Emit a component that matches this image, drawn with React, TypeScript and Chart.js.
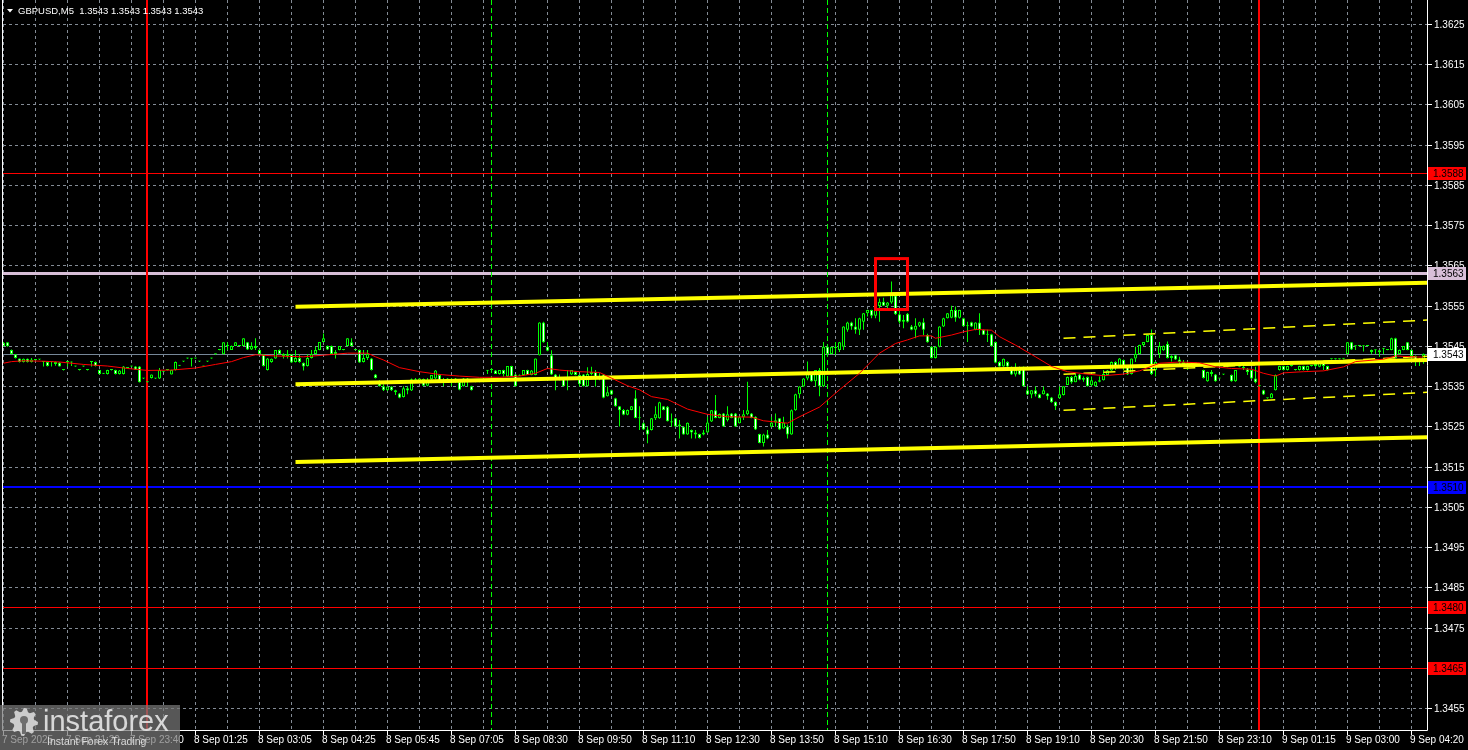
import React, { useEffect, useRef } from 'react';
import { Chart, registerables } from 'chart.js';

Chart.register(...registerables);

// ---------------- DATA ----------------
// GBPUSD M5 candles; values are pips above BASE (1.3500)
const BASE = 1.35;
const symbolTitle = 'GBPUSD,M5';
const titlePrices = [1.3543, 1.3543, 1.3543, 1.3543];

const opens = [
  45.8, 45.9, 44.0, 42.9, 41.9, 41.0, 41.8, 41.0, 41.5, 41.6,
  41.1, 41.0, 41.0, 41.0, 40.8, 39.0, 41.1, 41.0, 39.9, 39.0,
  39.9, 39.0, 41.1, 41.0, 39.0, 38.1, 38.0, 39.0, 39.0, 38.0,
  38.0, 39.5, 39.9, 39.9, 39.9, 36.9, 36.0, 37.0, 36.9, 36.9,
  38.6, 39.0, 37.9, 39.0, 40.1, 41.1, 41.9, 41.9, 41.9, 41.1,
  39.9, 41.1, 41.9, 42.9, 44.0, 42.9, 45.0, 44.0, 45.0, 45.0,
  45.0, 45.9, 44.1, 45.0, 44.0, 42.9, 39.0, 41.0, 41.9, 44.0,
  43.0, 42.5, 42.9, 41.0, 42.0, 40.8, 40.0, 42.0, 43.0, 44.0,
  46.0, 45.0, 45.0, 43.0, 44.0, 44.0, 45.0, 45.9, 44.0, 44.0,
  41.0, 42.0, 41.9, 37.9, 35.7, 35.0, 34.0, 34.9, 34.0, 33.2,
  32.3, 34.5, 33.9, 36.7, 36.0, 36.8, 35.1, 36.7, 36.9, 37.8,
  36.2, 36.9, 36.0, 36.0, 36.1, 35.0, 36.9, 35.0, 36.1, 36.1,
  36.1, 38.9, 39.0, 38.9, 38.0, 39.0, 37.4, 40.0, 37.9, 37.6,
  37.8, 39.0, 37.8, 37.8, 42.7, 50.8, 44.8, 42.7, 37.9, 36.5,
  36.9, 37.0, 37.9, 38.6, 37.8, 37.9, 35.0, 38.0, 38.5, 37.0,
  37.9, 32.5, 34.0, 32.0, 30.0, 29.1, 27.9, 29.1, 32.0, 27.1,
  25.8, 24.2, 24.1, 27.0, 27.0, 30.0, 29.9, 26.3, 27.0, 25.0,
  24.9, 23.0, 24.1, 23.5, 23.1, 23.0, 23.5, 26.2, 29.0, 27.1,
  28.2, 26.5, 28.2, 28.2, 25.8, 27.3, 28.0, 28.2, 27.4, 23.1,
  20.9, 23.0, 24.9, 26.0, 27.0, 24.5, 25.0, 23.0, 29.0, 33.0,
  34.9, 36.9, 38.0, 36.2, 39.0, 35.0, 44.8, 43.0, 44.8, 44.0,
  44.8, 49.0, 50.8, 49.8, 49.0, 51.0, 53.1, 53.9, 52.5, 54.9,
  56.0, 55.0, 55.8, 57.5, 52.9, 51.0, 53.0, 49.8, 49.0, 50.0,
  50.9, 47.7, 44.8, 42.0, 44.8, 49.8, 51.9, 52.0, 53.9, 52.0,
  51.9, 49.9, 50.9, 49.0, 50.8, 49.0, 47.8, 47.9, 46.0, 41.0,
  39.9, 41.0, 39.8, 37.9, 39.0, 39.8, 34.0, 32.9, 34.0, 33.0,
  33.0, 33.2, 32.2, 31.1, 32.0, 32.8, 35.3, 37.3, 36.0, 37.9,
  36.6, 37.3, 35.2, 35.0, 36.1, 36.5, 37.8, 38.9, 41.0, 40.0,
  41.5, 39.8, 38.0, 41.9, 43.0, 45.2, 46.0, 47.7, 39.0, 43.0,
  43.9, 45.5, 42.0, 42.7, 41.6, 41.0, 40.5, 40.7, 40.7, 40.3,
  39.0, 36.2, 38.5, 37.9, 36.9, 37.9, 39.8, 37.8, 36.2, 39.8,
  39.8, 39.2, 39.0, 36.9, 35.0, 34.0, 32.0, 32.0, 34.0, 39.0,
  40.0, 39.0, 40.0, 39.0, 39.0, 40.0, 39.0, 40.0, 40.0, 39.8,
  41.1, 40.0, 41.7, 41.7, 41.7, 41.8, 43.0, 45.9, 45.0, 45.0,
  45.0, 45.0, 44.0, 44.0, 43.9, 44.4, 44.0, 44.0, 46.9, 43.0,
  44.0, 45.9, 44.0, 42.5, 41.5, 41.0,
];

const highs = [
  46.0, 45.9, 44.1, 42.9, 41.9, 41.9, 41.9, 42.0, 41.6, 41.7,
  41.2, 41.1, 41.1, 41.1, 41.0, 39.1, 41.2, 41.1, 40.0, 39.1,
  40.0, 39.1, 41.2, 41.1, 39.1, 38.3, 39.1, 39.1, 39.1, 39.0,
  40.0, 39.6, 40.0, 40.0, 40.0, 37.0, 36.1, 37.9, 37.0, 39.5,
  38.7, 39.1, 39.1, 41.1, 40.2, 41.2, 42.0, 42.0, 42.0, 41.2,
  40.0, 41.2, 42.0, 43.0, 44.1, 45.9, 45.9, 45.1, 45.9, 45.1,
  46.9, 46.0, 45.9, 46.9, 44.1, 43.0, 42.0, 41.9, 44.0, 44.1,
  43.2, 44.0, 43.0, 44.0, 42.9, 40.9, 42.9, 44.0, 44.8, 46.0,
  48.1, 45.1, 45.1, 44.0, 45.0, 44.1, 46.9, 46.9, 44.1, 44.1,
  44.0, 44.0, 42.0, 38.0, 36.5, 35.5, 34.9, 35.0, 34.1, 33.3,
  35.0, 35.0, 36.9, 37.0, 37.0, 36.9, 37.0, 37.8, 39.0, 38.0,
  37.0, 37.0, 37.0, 37.0, 36.2, 37.0, 37.0, 35.1, 36.2, 36.2,
  36.3, 39.0, 39.1, 39.0, 39.0, 39.1, 40.0, 40.1, 38.0, 37.9,
  39.0, 39.1, 39.0, 41.9, 50.9, 51.0, 45.9, 43.9, 38.0, 37.9,
  37.0, 39.0, 39.0, 38.7, 37.9, 38.0, 39.7, 39.8, 39.0, 38.2,
  38.0, 34.9, 34.1, 32.1, 30.1, 29.3, 29.2, 30.1, 34.0, 30.0,
  26.0, 24.9, 27.1, 30.0, 31.1, 30.1, 30.1, 28.2, 27.1, 26.6,
  25.0, 26.0, 24.2, 24.1, 23.2, 24.1, 27.4, 29.1, 32.8, 28.2,
  28.3, 30.0, 28.3, 28.3, 27.4, 29.1, 36.1, 28.3, 27.5, 23.2,
  23.2, 24.1, 27.4, 28.2, 27.1, 27.4, 25.5, 29.2, 33.1, 35.0,
  37.0, 41.1, 38.3, 39.0, 39.5, 46.0, 45.5, 44.8, 46.0, 46.0,
  49.9, 51.0, 51.0, 51.9, 52.0, 53.2, 54.0, 54.0, 55.0, 56.8,
  57.0, 55.9, 61.0, 58.0, 54.0, 52.7, 53.2, 50.2, 51.9, 51.0,
  51.9, 48.0, 45.0, 44.9, 49.9, 52.0, 53.2, 55.0, 54.8, 54.0,
  52.0, 51.0, 51.0, 50.9, 53.1, 49.1, 49.0, 48.0, 46.1, 41.2,
  41.9, 41.2, 39.9, 40.7, 39.9, 39.9, 35.0, 34.0, 34.9, 33.1,
  34.9, 33.3, 32.3, 31.2, 34.9, 35.0, 37.4, 37.5, 38.2, 38.0,
  37.4, 37.4, 37.4, 36.2, 37.4, 39.0, 39.0, 41.1, 41.2, 42.0,
  41.6, 39.9, 41.9, 44.8, 45.3, 46.0, 47.8, 49.1, 41.1, 46.0,
  45.1, 46.1, 42.7, 42.8, 42.3, 41.5, 41.1, 40.8, 40.8, 40.4,
  39.1, 38.6, 39.0, 38.0, 37.0, 38.0, 39.9, 37.9, 39.0, 39.9,
  40.0, 39.5, 39.1, 39.8, 35.1, 34.1, 32.1, 33.3, 37.9, 40.1,
  40.1, 40.1, 40.1, 39.1, 40.1, 40.1, 40.1, 40.1, 41.1, 41.2,
  41.2, 40.1, 41.8, 41.8, 41.8, 41.9, 46.0, 46.0, 45.1, 45.1,
  45.1, 45.1, 44.1, 44.1, 44.0, 44.5, 44.1, 47.0, 47.0, 44.1,
  45.0, 46.0, 44.1, 42.6, 42.0, 43.1,
];

const lows = [
  44.9, 44.8, 42.9, 41.9, 40.9, 40.9, 40.9, 40.9, 41.4, 41.5,
  39.9, 39.9, 39.9, 40.1, 39.9, 38.9, 39.9, 40.0, 39.8, 38.9,
  39.8, 38.9, 39.9, 39.9, 37.9, 38.0, 37.9, 38.9, 37.9, 37.9,
  37.9, 39.4, 39.8, 39.0, 35.9, 36.8, 35.9, 36.9, 36.8, 36.8,
  38.5, 38.9, 37.9, 38.9, 40.0, 41.0, 41.8, 39.9, 41.8, 41.0,
  39.8, 41.0, 41.8, 42.8, 43.9, 42.9, 44.0, 44.0, 45.0, 44.9,
  45.0, 44.0, 44.0, 44.0, 42.9, 39.9, 38.9, 40.8, 41.8, 42.9,
  41.9, 41.9, 40.8, 40.9, 40.8, 38.9, 39.9, 41.9, 42.9, 43.9,
  45.9, 44.0, 42.9, 41.9, 43.9, 43.9, 44.9, 44.9, 43.9, 40.8,
  40.9, 41.5, 38.9, 36.9, 34.9, 33.8, 33.8, 33.8, 32.8, 32.0,
  32.2, 33.0, 33.8, 35.8, 35.8, 35.0, 35.0, 36.6, 36.8, 36.1,
  35.0, 35.9, 35.0, 35.8, 34.0, 34.9, 34.9, 33.9, 36.0, 36.0,
  36.0, 38.0, 38.9, 38.0, 37.9, 37.4, 37.3, 37.3, 34.9, 37.5,
  37.7, 37.8, 37.7, 37.7, 42.6, 45.8, 43.7, 37.8, 34.0, 36.4,
  34.9, 34.0, 37.8, 37.7, 34.9, 34.9, 35.0, 37.7, 34.9, 36.5,
  32.0, 32.4, 32.8, 29.9, 25.0, 27.8, 27.8, 29.0, 27.0, 24.1,
  24.1, 20.8, 24.0, 26.6, 26.9, 29.0, 26.2, 24.9, 24.9, 22.0,
  22.9, 22.9, 22.0, 22.0, 22.0, 22.8, 23.4, 26.1, 27.0, 27.0,
  24.9, 26.2, 27.0, 24.9, 25.7, 26.6, 27.8, 27.0, 24.1, 20.8,
  20.0, 21.8, 24.8, 24.9, 24.1, 24.4, 22.0, 22.9, 28.9, 32.0,
  34.8, 36.5, 36.1, 34.9, 32.5, 34.8, 42.7, 42.9, 42.7, 43.5,
  44.0, 48.5, 49.0, 48.0, 47.7, 49.0, 52.3, 51.9, 51.9, 51.0,
  54.9, 53.9, 55.5, 52.7, 50.6, 49.4, 50.8, 48.9, 46.9, 49.7,
  47.7, 45.8, 41.9, 41.9, 44.7, 49.7, 51.8, 51.9, 51.0, 51.8,
  49.8, 46.0, 49.7, 48.9, 47.7, 47.7, 46.0, 44.8, 40.7, 39.8,
  39.8, 39.0, 37.8, 37.4, 37.8, 34.9, 32.8, 32.0, 32.4, 32.0,
  32.9, 31.6, 30.9, 29.1, 31.9, 32.7, 35.3, 35.6, 36.0, 36.5,
  36.1, 34.9, 35.0, 34.9, 36.0, 36.4, 37.7, 38.8, 39.0, 39.9,
  39.0, 37.8, 37.9, 41.0, 42.8, 44.9, 45.9, 37.8, 37.4, 42.0,
  43.8, 41.9, 41.1, 41.5, 40.0, 39.8, 39.0, 40.6, 40.6, 40.2,
  36.9, 36.1, 37.4, 36.1, 36.8, 37.8, 39.7, 36.1, 36.1, 39.7,
  39.0, 37.8, 36.8, 35.7, 34.9, 32.8, 31.9, 32.0, 33.9, 38.9,
  38.9, 38.9, 39.9, 38.9, 38.9, 38.9, 38.9, 39.9, 39.7, 39.7,
  39.0, 38.9, 41.6, 41.6, 41.6, 41.7, 42.9, 44.0, 44.0, 44.9,
  43.6, 44.9, 43.0, 43.0, 42.3, 43.0, 43.9, 43.9, 41.9, 42.9,
  43.9, 43.9, 41.5, 40.0, 40.0, 40.6,
];

const closes = [
  45.0, 44.9, 43.0, 42.0, 41.0, 41.8, 41.0, 41.6, 41.5, 41.6,
  41.0, 40.0, 41.0, 40.5, 39.9, 39.0, 41.0, 40.9, 39.9, 39.0,
  39.9, 39.0, 41.0, 40.0, 38.0, 38.2, 39.0, 39.0, 38.0, 38.9,
  39.9, 39.5, 39.9, 39.1, 36.0, 36.9, 36.0, 37.9, 36.9, 39.0,
  38.6, 39.0, 39.0, 41.0, 40.1, 41.1, 41.9, 41.8, 41.9, 41.1,
  39.9, 41.1, 41.9, 42.9, 44.0, 45.9, 45.1, 45.0, 45.9, 45.0,
  46.9, 44.1, 45.0, 44.5, 43.0, 40.0, 41.9, 41.8, 44.0, 43.0,
  42.5, 43.0, 40.9, 42.0, 41.0, 39.9, 42.0, 43.0, 44.0, 46.0,
  46.9, 44.1, 43.0, 43.5, 45.0, 44.0, 46.9, 45.0, 44.0, 40.9,
  42.0, 43.0, 39.0, 37.0, 35.0, 34.0, 34.9, 34.0, 33.5, 32.1,
  34.5, 33.9, 36.7, 36.0, 36.9, 35.1, 36.5, 37.8, 38.9, 36.2,
  36.5, 36.0, 36.4, 36.9, 34.1, 36.9, 36.0, 34.0, 36.1, 36.1,
  36.2, 38.8, 39.0, 38.0, 39.0, 38.0, 40.0, 37.4, 35.0, 37.8,
  39.0, 37.8, 38.9, 41.9, 50.8, 45.9, 43.8, 37.9, 36.5, 37.0,
  35.0, 36.5, 39.0, 37.8, 35.5, 35.0, 38.0, 38.5, 37.0, 37.5,
  32.1, 33.5, 32.9, 30.0, 29.0, 27.9, 29.1, 30.0, 27.1, 27.0,
  24.2, 23.0, 27.0, 28.0, 31.0, 29.1, 26.3, 26.0, 25.0, 25.5,
  23.0, 25.9, 23.5, 23.0, 22.1, 23.5, 26.0, 29.0, 27.1, 28.1,
  25.0, 28.0, 27.1, 25.0, 27.3, 28.0, 29.0, 27.1, 24.2, 20.9,
  23.0, 22.0, 26.0, 26.5, 24.2, 26.0, 23.0, 29.0, 33.0, 34.9,
  36.9, 38.0, 36.2, 39.0, 35.0, 44.8, 43.0, 44.8, 44.5, 45.9,
  49.8, 50.8, 49.8, 49.0, 51.9, 53.1, 53.9, 52.5, 54.9, 56.0,
  55.0, 55.8, 57.7, 52.9, 51.0, 51.5, 51.0, 49.0, 50.0, 50.9,
  49.0, 45.9, 42.0, 44.8, 49.8, 51.9, 53.1, 53.9, 52.0, 53.9,
  49.9, 50.0, 49.8, 50.8, 49.0, 47.8, 48.0, 44.9, 40.8, 39.9,
  41.8, 39.9, 37.9, 39.0, 37.9, 35.0, 32.9, 34.0, 33.0, 32.0,
  34.0, 32.5, 31.0, 30.0, 33.0, 35.0, 37.3, 36.0, 37.5, 36.6,
  37.0, 35.0, 36.5, 36.1, 36.5, 38.0, 38.9, 41.0, 40.0, 41.9,
  40.0, 37.9, 41.9, 43.0, 45.2, 46.0, 47.7, 38.0, 41.0, 45.0,
  45.0, 42.0, 42.5, 41.6, 41.0, 40.5, 40.0, 40.7, 40.7, 40.3,
  37.0, 38.5, 38.0, 36.2, 36.9, 37.9, 39.8, 36.2, 39.0, 39.8,
  39.5, 38.5, 36.9, 36.0, 35.0, 32.9, 32.0, 33.2, 37.8, 40.0,
  39.0, 40.0, 40.0, 39.0, 40.0, 39.0, 40.0, 40.0, 40.5, 41.1,
  40.0, 39.0, 41.7, 41.7, 41.8, 41.8, 45.9, 44.1, 44.9, 45.0,
  44.9, 45.0, 43.5, 43.9, 43.5, 44.3, 44.0, 46.9, 42.0, 44.0,
  45.0, 44.0, 42.5, 41.5, 41.0, 43.0,
];

// moving average (red line), read at selected bars: bar index / pips
const maBars = [
  0, 2, 5, 10, 14, 20, 26, 31, 36, 42, 48, 53, 57, 60, 63, 68, 75, 80, 86, 91,
  93, 95, 99, 104, 109, 114, 119, 124, 129, 133, 136, 139, 144, 149, 152, 156, 159, 162, 166, 171,
  176, 181, 187, 190, 196, 199, 204, 209, 214, 219, 223, 226, 229, 232, 233, 237, 240, 243, 247, 249,
  253, 258, 262, 266, 270, 275, 280, 284, 289, 294, 299, 303, 307, 312, 315, 318, 320, 325, 330, 335,
  338, 345, 348, 352, 355,
];
const maPips = [
  40.7, 41.1, 41.3, 41.2, 41.0, 40.4, 40.0, 39.4, 38.9, 39.0, 39.5, 40.4, 41.1, 42.1, 42.8, 42.5, 42.3, 42.7, 43.2, 43.2,
  42.3, 41.5, 39.6, 38.6, 37.9, 37.5, 37.2, 37.2, 37.5, 38.2, 39.4, 39.0, 38.6, 38.4, 37.0, 35.1, 34.1, 32.4, 31.7, 29.3,
  28.0, 27.4, 27.3, 26.4, 25.8, 27.4, 29.8, 34.1, 38.2, 43.2, 45.6, 46.5, 47.5, 47.5, 46.9, 47.7, 48.5, 49.1, 48.9, 47.3,
  45.2, 42.3, 39.9, 38.6, 38.1, 37.6, 38.0, 38.8, 40.7, 41.0, 40.8, 39.8, 39.4, 39.2, 38.2, 37.5, 38.3, 38.6, 38.8, 39.8,
  41.1, 41.7, 42.5, 42.3, 42.2,
];

// regression channel (thick yellow): start / end bar, pips
const channelBars = [73, 356];
const channelUpper = [54.75, 60.71];
const channelMiddle = [35.46, 41.5];
const channelLower = [16.17, 22.29];
// thin dashed channel
const dashBars = [265, 356];
const dashUpper = [46.89, 51.44];
const dashMiddle = [37.95, 42.45];
const dashLower = [29.0, 33.47];

// horizontal levels
const levelPrices = [1.3588, 1.3563, 1.351, 1.348, 1.3465];
const lastPrice = 1.3543;
// vertical lines (bar index)
const dayLineBars = [36, 314];
const newsLineBars = [122, 206];
// highlight rectangle: bars and pips
const boxBars = [218, 226];
const boxPips = [66.7, 54.05];

// axis labels
const priceTicks = [
  1.3455, 1.3465, 1.3475, 1.3485, 1.3495, 1.3505, 1.3515, 1.3525, 1.3535,
  1.3545, 1.3555, 1.3565, 1.3575, 1.3585, 1.3595, 1.3605, 1.3615, 1.3625,
];
const timeLabels = [
  '7 Sep 2025', '7 Sep 21:20', '7 Sep 23:40', '8 Sep 01:25', '8 Sep 03:05', '8 Sep 04:25',
  '8 Sep 05:45', '8 Sep 07:05', '8 Sep 08:30', '8 Sep 09:50', '8 Sep 11:10', '8 Sep 12:30',
  '8 Sep 13:50', '8 Sep 15:10', '8 Sep 16:30', '8 Sep 17:50', '8 Sep 19:10', '8 Sep 20:30',
  '8 Sep 21:50', '8 Sep 23:10', '9 Sep 01:15', '9 Sep 03:00', '9 Sep 04:20',
];
const timeLabelBars = [
  0, 16, 32, 48, 64, 80, 96, 112, 128, 144, 160, 176, 192, 208, 224, 240, 256, 272, 288, 304, 320, 336, 352,
];

// ---------------- STYLE ----------------
const W = 1468;
const H = 750;
const LIME = '#00ff00';
const GRID = '#838b95';
const YELLOW = '#ffff00';
const FONT = "10px 'Liberation Sans', Arial, sans-serif";
const TITLE_FONT = "9.5px 'Liberation Sans', Arial, sans-serif";
const levelColors = ['#ff0000', '#d8bfd8', '#0000ff', '#ff0000', '#ff0000'];
const levelWidths = [1, 3, 2, 1, 1];
const LAST_COLOR = '#778899';

const px = (v: number) => BASE + v / 10000;

function strokeLine(ctx: CanvasRenderingContext2D, x1: number, y1: number, x2: number, y2: number) {
  ctx.beginPath();
  ctx.moveTo(x1, y1);
  ctx.lineTo(x2, y2);
  ctx.stroke();
}

const mtPlugin = {
  id: 'mt4look',
  beforeDraw(chart: any) {
    const { ctx } = chart;
    ctx.save();
    ctx.fillStyle = '#000';
    ctx.fillRect(0, 0, W, H);
    ctx.restore();
  },
  beforeDatasetsDraw(chart: any) {
    const { ctx, chartArea: a } = chart;
    const xs = chart.scales.x;
    const ys = chart.scales.y;
    ctx.save();
    ctx.beginPath();
    ctx.rect(a.left, a.top, a.right - a.left, a.bottom - a.top);
    ctx.clip();
    // grid
    ctx.strokeStyle = GRID;
    ctx.lineWidth = 1;
    ctx.setLineDash([3, 3]);
    for (const p of priceTicks) {
      const y = Math.round(ys.getPixelForValue(p)) + 0.5;
      strokeLine(ctx, a.left, y, a.right, y);
    }
    for (let i = 0; i < opens.length; i += 8) {
      const x = Math.floor(xs.getPixelForValue(i)) + 0.5;
      strokeLine(ctx, x, a.top, x, a.bottom);
    }
    ctx.setLineDash([]);
    // last price line
    ctx.strokeStyle = LAST_COLOR;
    ctx.lineWidth = 1;
    const yl = Math.round(ys.getPixelForValue(lastPrice)) + 0.5;
    strokeLine(ctx, a.left, yl, a.right, yl);
    // horizontal levels
    levelPrices.forEach((p, k) => {
      const w = levelWidths[k];
      const y = Math.round(ys.getPixelForValue(p)) + (w % 2 ? 0.5 : 0);
      ctx.strokeStyle = levelColors[k];
      ctx.lineWidth = w;
      strokeLine(ctx, a.left, y, a.right, y);
    });
    // day separators (red)
    ctx.strokeStyle = '#ff0000';
    ctx.lineWidth = 2;
    for (const b of dayLineBars) {
      const x = Math.round(xs.getPixelForValue(b)) - 1;
      strokeLine(ctx, x, a.top, x, a.bottom);
    }
    // news lines (lime dashed)
    ctx.strokeStyle = LIME;
    ctx.lineWidth = 1;
    ctx.setLineDash([5, 3]);
    for (const b of newsLineBars) {
      const x = Math.floor(xs.getPixelForValue(b)) + 0.5;
      strokeLine(ctx, x, a.top, x, a.bottom);
    }
    ctx.restore();
  },
  afterDatasetsDraw(chart: any) {
    const { ctx, chartArea: a } = chart;
    const xs = chart.scales.x;
    const ys = chart.scales.y;
    ctx.save();
    // red highlight rectangle
    ctx.strokeStyle = '#ff0000';
    ctx.lineWidth = 3;
    const rx1 = xs.getPixelForValue(boxBars[0]);
    const rx2 = xs.getPixelForValue(boxBars[1]);
    const ry1 = ys.getPixelForValue(px(boxPips[0]));
    const ry2 = ys.getPixelForValue(px(boxPips[1]));
    ctx.strokeRect(rx1, ry1, rx2 - rx1, ry2 - ry1);

    // frame
    ctx.strokeStyle = '#ffffff';
    ctx.lineWidth = 1;
    strokeLine(ctx, a.left - 0.5, 0, a.left - 0.5, a.bottom + 0.5);
    strokeLine(ctx, a.left - 0.5, a.bottom + 0.5, a.right + 0.5, a.bottom + 0.5);
    strokeLine(ctx, a.right + 0.5, 0, a.right + 0.5, a.bottom + 0.5);

    // price axis
    ctx.font = FONT;
    ctx.textBaseline = 'middle';
    ctx.textAlign = 'left';
    for (const p of priceTicks) {
      const y = Math.round(ys.getPixelForValue(p));
      ctx.strokeStyle = '#ffffff';
      strokeLine(ctx, a.right + 1, y + 0.5, a.right + 5, y + 0.5);
      ctx.fillStyle = '#ffffff';
      ctx.fillText(p.toFixed(4), a.right + 7, y + 1);
    }
    const boxes: [number, string][] = levelPrices.map((p, k) => [p, levelColors[k]]);
    boxes.push([lastPrice, '#ffffff']);
    for (const [p, col] of boxes) {
      const y = Math.round(ys.getPixelForValue(p));
      ctx.fillStyle = col;
      ctx.fillRect(a.right + 1, y - 6, 38, 13);
      ctx.fillStyle = '#000000';
      ctx.fillText(p.toFixed(4), a.right + 6, y + 1);
    }

    // time axis
    timeLabels.forEach((t, k) => {
      const x = Math.floor(xs.getPixelForValue(timeLabelBars[k]));
      ctx.strokeStyle = '#ffffff';
      strokeLine(ctx, x + 0.5, a.bottom + 1, x + 0.5, a.bottom + 5);
      ctx.fillStyle = '#ffffff';
      ctx.fillText(t, x - 1, a.bottom + 10);
    });

    // title
    ctx.fillStyle = '#ffffff';
    ctx.beginPath();
    ctx.moveTo(7, 9);
    ctx.lineTo(13, 9);
    ctx.lineTo(10, 12.5);
    ctx.closePath();
    ctx.fill();
    ctx.font = TITLE_FONT;
    ctx.fillText(symbolTitle + '  ' + titlePrices.map((v) => v.toFixed(4)).join(' '), 18, 11);

    // watermark
    ctx.fillStyle = 'rgba(120,120,120,0.72)';
    ctx.fillRect(0, 705, 180, 45);
    ctx.fillStyle = 'rgba(225,225,225,0.85)';
    const cx = 24;
    const cy = 722;
    ctx.beginPath();
    for (let k = 0; k < 16; k++) {
      const ang = (k / 16) * Math.PI * 2;
      const r = k % 2 === 0 ? 14 : 10.5;
      const ang2 = ang + Math.PI / 16;
      ctx.lineTo(cx + r * Math.cos(ang), cy + r * Math.sin(ang));
      ctx.lineTo(cx + r * Math.cos(ang2), cy + r * Math.sin(ang2));
    }
    ctx.closePath();
    ctx.fill();
    ctx.fillStyle = 'rgba(110,110,110,1)';
    ctx.beginPath();
    ctx.arc(cx, cy - 2, 4, 0, Math.PI * 2);
    ctx.fill();
    ctx.fillRect(cx - 2, cy, 4, 12);
    ctx.fillStyle = 'rgba(230,230,230,0.9)';
    ctx.font = "29px 'Liberation Sans', Arial, sans-serif";
    ctx.textBaseline = 'alphabetic';
    ctx.fillText('instaforex', 43, 731);
    ctx.font = "10.5px 'Liberation Sans', Arial, sans-serif";
    ctx.fillText('Instant Forex Trading', 47, 745);
    ctx.restore();
  },
};

export default function App() {
  const ref = useRef<HTMLCanvasElement>(null);
  useEffect(() => {
    document.body.style.margin = '0';
    document.body.style.background = '#000';
    const canvas = ref.current;
    if (!canvas) return;
    const bodyFill = closes.map((c, i) => (c > opens[i] ? '#000000' : '#ffffff'));
    const lineDs = (label: string, bars: number[], vals: number[], width: number, color: string, dash: number[] = []) => ({
      type: 'line' as const,
      label,
      data: bars.map((b, k) => ({ x: b, y: px(vals[k]) })),
      borderColor: color,
      borderWidth: width,
      borderDash: dash,
      pointRadius: 0,
      tension: 0,
      clip: 0,
      order: 0,
    });
    const chart = new Chart(canvas, {
      type: 'bar',
      data: {
        datasets: [
          {
            type: 'bar',
            label: 'body',
            data: opens.map((o, i) => ({ x: i, y: [px(o), px(closes[i])] })) as any,
            backgroundColor: bodyFill,
            borderColor: LIME,
            borderWidth: 1,
            borderSkipped: false,
            barThickness: 3,
            grouped: false,
            minBarLength: 1,
            inflateAmount: 0,
            order: 2,
          } as any,
          {
            type: 'bar',
            label: 'wick',
            data: highs.map((h, i) => ({ x: i, y: [px(lows[i]), px(h)] })) as any,
            backgroundColor: LIME,
            borderWidth: 0,
            barThickness: 1,
            grouped: false,
            minBarLength: 1,
            inflateAmount: 0,
            order: 3,
          } as any,
          lineDs('MA', maBars, maPips, 1, '#ff0000'),
          lineDs('chUp', channelBars, channelUpper, 4, YELLOW),
          lineDs('chMid', channelBars, channelMiddle, 4, YELLOW),
          lineDs('chLow', channelBars, channelLower, 4, YELLOW),
          lineDs('dUp', dashBars, dashUpper, 1.5, YELLOW, [12, 8]),
          lineDs('dMid', dashBars, dashMiddle, 1.5, YELLOW, [12, 8]),
          lineDs('dLow', dashBars, dashLower, 1.5, YELLOW, [12, 8]),
        ] as any,
      },
      options: {
        responsive: false,
        animation: false,
        devicePixelRatio: 1,
        layout: { padding: { left: 3, top: 0, right: 41, bottom: 20 } },
        plugins: { legend: { display: false }, tooltip: { enabled: false } },
        events: [],
        scales: {
          x: { type: 'linear', min: -0.125, max: 355.875, display: false, offset: false },
          y: { type: 'linear', min: 1.34495532, max: 1.36309642, display: false },
        },
      } as any,
      plugins: [mtPlugin],
    });
    return () => chart.destroy();
  }, []);
  return <canvas ref={ref} width={W} height={H} style={{ display: 'block', width: W + 'px', height: H + 'px' }} />;
}
